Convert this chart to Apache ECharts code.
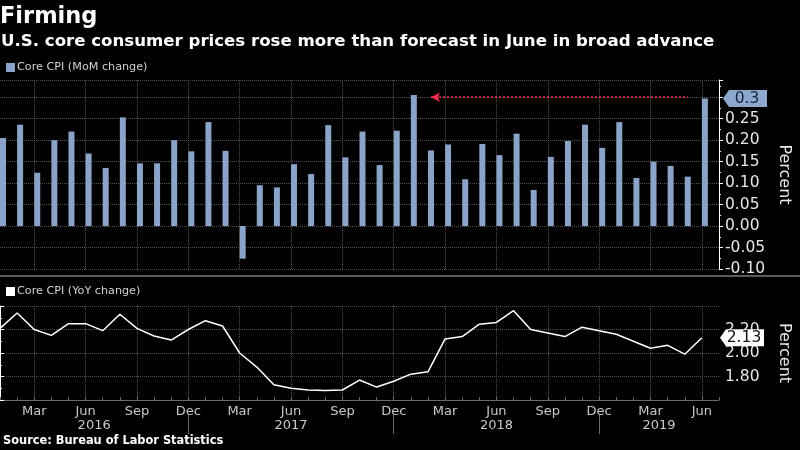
<!DOCTYPE html>
<html>
<head>
<meta charset="utf-8">
<style>
  html, body { margin: 0; padding: 0; background: #000; }
  #chart { width: 800px; height: 450px; }
</style>
<script src="https://cdn.jsdelivr.net/npm/echarts@6/dist/echarts.min.js"></script>
</head>
<body>
<div id="chart"></div>
<script>
// Categories (month-end observations); the last one is an empty slot that pads the axis
const months = [
  'Jan 2016','Feb 2016','Mar 2016','Apr 2016','May 2016','Jun 2016','Jul 2016','Aug 2016','Sep 2016','Oct 2016','Nov 2016','Dec 2016',
  'Jan 2017','Feb 2017','Mar 2017','Apr 2017','May 2017','Jun 2017','Jul 2017','Aug 2017','Sep 2017','Oct 2017','Nov 2017','Dec 2017',
  'Jan 2018','Feb 2018','Mar 2018','Apr 2018','May 2018','Jun 2018','Jul 2018','Aug 2018','Sep 2018','Oct 2018','Nov 2018','Dec 2018',
  'Jan 2019','Feb 2019','Mar 2019','Apr 2019','May 2019','Jun 2019','Jul 2019'
];

// Core CPI, month-over-month % change
const momChange = [
  0.205, 0.236, 0.124, 0.200, 0.220, 0.169, 0.135, 0.253, 0.146, 0.146, 0.200, 0.174,
  0.242, 0.175, -0.076, 0.095, 0.090, 0.144, 0.121, 0.235, 0.160, 0.220, 0.142, 0.222,
  0.305, 0.176, 0.190, 0.109, 0.191, 0.165, 0.215, 0.084, 0.161, 0.198, 0.236, 0.182,
  0.242, 0.112, 0.150, 0.140, 0.115, 0.297, null
];

// Core CPI, year-over-year % change
const yoyChange = [
  2.21, 2.34, 2.20, 2.15, 2.25, 2.25, 2.19, 2.33, 2.21, 2.145, 2.11, 2.20,
  2.275, 2.23, 2.00, 1.88, 1.73, 1.70, 1.685, 1.68, 1.685, 1.77, 1.71, 1.76,
  1.82, 1.84, 2.12, 2.14, 2.245, 2.26, 2.36, 2.20, 2.17, 2.14, 2.22, 2.19,
  2.16, 2.10, 2.04, 2.065, 1.99, 2.13, null
];

const quarterMonths = ['Mar', 'Jun', 'Sep', 'Dec'];
const years = ['2016', '2017', '2018', '2019'];
const momTickLabels = ['-0.10', '-0.05', '0.00', '0.05', '0.10', '0.15', '0.20', '0.25'];
const yoyTickLabels = ['1.80', '2.00', '2.20'];

const momLastLabel = '0.3';
const yoyLastLabel = '2.13';
const arrowFrom = 'Feb 2018';
const arrowTo = 'May 2019';

// Year separators sit at each December; year labels centred on the visible span of each year
const lastIdx = months.length - 1;
const decIdx = months.map((m, i) => m.startsWith('Dec') ? i : -1).filter(i => i >= 0);
const bounds = [0].concat(decIdx, [lastIdx]);
const yearCenters = years.map((y, i) => (bounds[i] + bounds[i + 1]) / 2);

const isQuarter = (idx) => quarterMonths.indexOf(months[idx].slice(0, 3)) >= 0;

const FONT = 'DejaVu Sans';
const gridColor = '#505050';
const axisTextColor = '#e6e6e6';
const barColor = '#8aa3c9';
const tagPath = 'path://M0,8.5 L6,0 L44,0 L44,17 L6,17 Z';

const chart = echarts.init(document.getElementById('chart'), null, { renderer: 'canvas' });

const option = {
  backgroundColor: '#000',
  animation: false,
  textStyle: { fontFamily: FONT },
  title: [
    { text: 'Firming', left: 0, top: 6, padding: 0,
      textStyle: { color: '#fff', fontSize: 22.5, fontWeight: 'bold', fontFamily: FONT } },
    { text: 'U.S. core consumer prices rose more than forecast in June in broad advance', left: 1, top: 33, padding: 0,
      textStyle: { color: '#fff', fontSize: 16.6, fontWeight: 'bold', fontFamily: FONT } },
    { text: 'Source: Bureau of Labor Statistics', left: 3, top: 436, padding: 0,
      textStyle: { color: '#fff', fontSize: 11.4, fontWeight: 'bold', fontFamily: FONT } }
  ],
  legend: [
    { data: ['Core CPI (MoM change)'], left: 1, top: 57, icon: 'rect', itemWidth: 9, itemHeight: 9, itemGap: 4,
      selectedMode: false, textStyle: { color: '#d0d0d0', fontSize: 11.2, fontFamily: FONT, padding: [0, 0, 0, -3] } },
    { data: ['Core CPI (YoY change)'], left: 1, top: 281, icon: 'rect', itemWidth: 9, itemHeight: 9, itemGap: 4,
      selectedMode: false, textStyle: { color: '#d0d0d0', fontSize: 11.2, fontFamily: FONT, padding: [0, 0, 0, -3] } }
  ],
  graphic: [
    { type: 'rect', shape: { x: 0, y: 275, width: 800, height: 2 }, style: { fill: '#5a5a5a' }, silent: true }
  ],
  grid: [
    { left: 0, right: 65, top: 80, height: 189 },
    { left: 0, right: 65, top: 306, height: 94 }
  ],
  xAxis: [
    {
      type: 'category', gridIndex: 0, data: months, boundaryGap: false,
      axisLine: { show: false }, axisTick: { show: false }, axisLabel: { show: false },
      splitLine: { show: true, interval: (i) => isQuarter(i), lineStyle: { color: gridColor, type: 'dotted', width: 1 } }
    },
    {
      type: 'category', gridIndex: 1, data: months, boundaryGap: false,
      axisLine: { show: true, lineStyle: { color: '#6a6a6a', width: 1 } },
      axisTick: { show: true, inside: true, length: 3, interval: 0, lineStyle: { color: '#6a6a6a' } },
      axisLabel: { show: true, interval: (i) => isQuarter(i), formatter: (v) => v.slice(0, 3),
        color: '#c8c8c8', fontSize: 13, margin: 5, fontFamily: FONT },
      splitLine: { show: true, interval: (i) => isQuarter(i), lineStyle: { color: gridColor, type: 'dotted', width: 1 } }
    },
    {
      type: 'value', gridIndex: 1, min: 0, max: lastIdx, position: 'bottom', offset: 14,
      axisLine: { show: false },
      axisTick: { show: true, customValues: decIdx, length: 20, lineStyle: { color: '#6a6a6a' } },
      axisLabel: { show: true, customValues: yearCenters, margin: 5, color: '#c8c8c8', fontSize: 13, fontFamily: FONT,
        formatter: (v) => { const k = yearCenters.findIndex(c => Math.abs(c - v) < 1e-6); return k >= 0 ? years[k] : ''; } },
      splitLine: { show: false }
    }
  ],
  yAxis: [
    {
      type: 'value', gridIndex: 0, position: 'right', min: -0.1, max: 0.34, interval: 0.05,
      name: 'Percent', nameLocation: 'middle', nameRotate: -90, nameGap: 57,
      nameTextStyle: { color: axisTextColor, fontSize: 16, fontFamily: FONT },
      axisLine: { show: true, lineStyle: { color: '#fff', width: 1 } },
      axisTick: { show: true, length: 4, lineStyle: { color: '#fff' } },
      minorTick: { show: true, splitNumber: 2, length: 2, lineStyle: { color: '#fff' } },
      axisLabel: { color: axisTextColor, fontSize: 15.5, margin: 6, fontFamily: FONT, showMaxLabel: false,
        formatter: (v) => { const s = v.toFixed(2); return momTickLabels.indexOf(s) >= 0 ? s : ''; } },
      splitLine: { show: true, lineStyle: { color: gridColor, type: 'dotted', width: 1 } }
    },
    {
      type: 'value', gridIndex: 1, position: 'right', min: 1.6, max: 2.4, interval: 0.2,
      name: 'Percent', nameLocation: 'middle', nameRotate: -90, nameGap: 57,
      nameTextStyle: { color: axisTextColor, fontSize: 16, fontFamily: FONT },
      axisLine: { show: true, lineStyle: { color: '#fff', width: 1 } },
      axisTick: { show: true, length: 4, lineStyle: { color: '#fff' } },
      minorTick: { show: true, splitNumber: 2, length: 2, lineStyle: { color: '#fff' } },
      axisLabel: { color: axisTextColor, fontSize: 15.5, margin: 6, fontFamily: FONT,
        formatter: (v) => { const s = v.toFixed(2); return yoyTickLabels.indexOf(s) >= 0 ? s : ''; } },
      splitLine: { show: true, lineStyle: { color: gridColor, type: 'dotted', width: 1 } }
    }
  ],
  series: [
    { // empty companion series: shifts the real bars to start on the month tick
      name: '_pad', type: 'bar', xAxisIndex: 0, yAxisIndex: 0, data: months.map(() => null),
      barWidth: 6, barGap: '0%', silent: true, itemStyle: { color: 'rgba(0,0,0,0)' }
    },
    {
      name: 'Core CPI (MoM change)', type: 'bar', xAxisIndex: 0, yAxisIndex: 0, data: momChange,
      barWidth: 6, barGap: '0%', itemStyle: { color: barColor },
      markLine: {
        silent: true, symbol: ['arrow', 'none'], symbolSize: [7, 9],
        lineStyle: { color: '#ff2d4f', type: [2, 2], width: 1.6, opacity: 1 },
        label: { show: false },
        emphasis: { disabled: true },
        z: 10,
        data: [[
          { coord: [months.indexOf(arrowFrom), momLastLabel * 1] },
          { coord: [months.indexOf(arrowTo), momLastLabel * 1] }
        ]]
      },
      markPoint: {
        silent: true, symbol: tagPath, symbolSize: [44, 17], symbolKeepAspect: false, symbolOffset: [23, 0],
        itemStyle: { color: '#8ea8cd' },
        label: { show: true, formatter: momLastLabel, color: '#14233a', fontSize: 15.5, fontFamily: FONT, offset: [2, 0] },
        data: [{ coord: [lastIdx, momChange[lastIdx - 1]] }]
      }
    },
    {
      name: 'Core CPI (YoY change)', type: 'line', xAxisIndex: 1, yAxisIndex: 1, data: yoyChange,
      showSymbol: false, symbol: 'none', itemStyle: { color: '#fff' },
      lineStyle: { color: '#fff', width: 1.5 },
      markPoint: {
        silent: true, symbol: tagPath, symbolSize: [44, 17], symbolKeepAspect: false, symbolOffset: [23, 0],
        itemStyle: { color: '#fff' },
        label: { show: true, formatter: yoyLastLabel, color: '#111', fontSize: 15.5, fontFamily: FONT, offset: [2, 0] },
        data: [{ coord: [lastIdx, yoyChange[lastIdx - 1]] }]
      }
    }
  ]
};

chart.setOption(option);
</script>
</body>
</html>
